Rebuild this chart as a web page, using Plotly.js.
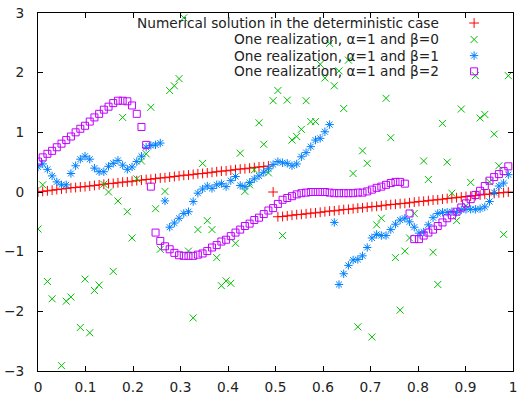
<!DOCTYPE html>
<html><head><meta charset="utf-8">
<script src="https://cdn.plot.ly/plotly-3.0.1.min.js"></script>
<style>html,body{margin:0;padding:0;background:#fff}</style>
</head><body><div id="chart" style="width:521px;height:396px"></div>
<script>
const xGrid = [0,0.0099,0.0198,0.0297,0.0396,0.0495,0.0594,0.0693,0.0792,0.0891,
0.0990,0.1089,0.1188,0.1287,0.1386,0.1485,0.1584,0.1683,0.1782,0.1881,
0.1980,0.2079,0.2178,0.2277,0.2376,0.2475,0.2574,0.2673,0.2772,0.2871,
0.2970,0.3069,0.3168,0.3267,0.3366,0.3465,0.3564,0.3663,0.3762,0.3861,
0.3960,0.4059,0.4158,0.4257,0.4356,0.4455,0.4554,0.4653,0.4752,0.4851,
0.4950,0.5050,0.5149,0.5248,0.5347,0.5446,0.5545,0.5644,0.5743,0.5842,
0.5941,0.6040,0.6139,0.6238,0.6337,0.6436,0.6535,0.6634,0.6733,0.6832,
0.6931,0.7030,0.7129,0.7228,0.7327,0.7426,0.7525,0.7624,0.7723,0.7822,
0.7921,0.8020,0.8119,0.8218,0.8317,0.8416,0.8515,0.8614,0.8713,0.8812,
0.8911,0.9010,0.9109,0.9208,0.9307,0.9406,0.9505,0.9604,0.9703,0.9802,
0.9901];

const deterministic = [0.00,0.01,0.02,0.03,0.04,0.05,0.06,0.07,0.075,0.085,
0.09,0.10,0.11,0.12,0.13,0.14,0.145,0.155,0.165,0.17,
0.18,0.19,0.20,0.21,0.215,0.225,0.235,0.24,0.25,0.26,
0.27,0.28,0.285,0.295,0.305,0.31,0.32,0.33,0.34,0.35,
0.355,0.365,0.375,0.385,0.39,0.40,0.41,0.42,0.425,0.435,
0.00,-0.415,-0.41,-0.40,-0.39,-0.38,-0.375,-0.365,-0.355,-0.35,
-0.34,-0.33,-0.32,-0.315,-0.305,-0.295,-0.29,-0.28,-0.27,-0.265,
-0.255,-0.245,-0.24,-0.23,-0.22,-0.21,-0.205,-0.195,-0.19,-0.18,
-0.17,-0.16,-0.155,-0.145,-0.135,-0.13,-0.12,-0.11,-0.10,-0.095,
-0.085,-0.075,-0.07,-0.06,-0.05,-0.04,-0.035,-0.025,-0.015,-0.01,
0.00];

const beta0 = [-0.62,0.12,-1.50,-1.79,null,-2.91,-1.83,-1.76,null,-2.27,
-1.46,-2.36,-1.65,-1.56,0.13,0.00,-1.33,-0.15,1.25,-0.33,
-0.77,0.22,0.52,0.64,1.42,-0.28,-0.96,0.01,1.70,1.78,
1.90,2.92,-0.99,-2.11,-0.63,0.48,-0.48,-0.63,-1.10,-1.57,
-1.49,-1.53,-0.86,0.65,0.01,0.12,0.37,1.16,0.80,0.32,
1.53,1.70,-0.73,1.54,0.87,0.93,1.05,1.53,1.18,1.18,
2.14,1.91,2.49,1.78,2.03,1.40,2.21,0.31,-2.26,0.69,
0.48,-2.43,-0.55,-0.44,1.57,0.91,-1.10,-1.98,-0.99,-0.77,
-0.36,null,0.52,0.21,-1.01,-1.55,1.15,0.50,-0.02,-0.48,
1.39,-0.23,0.16,1.95,1.24,1.30,0.17,0.97,0.44,-0.71,
1.95];

const beta1 = [0.42,0.47,0.38,0.27,0.17,0.12,0.12,0.31,0.44,0.55,
0.60,0.55,0.40,0.34,0.34,0.43,0.48,0.53,0.45,0.38,
0.42,0.51,0.60,0.75,0.78,0.79,0.82,-0.15,-0.59,-0.52,
-0.44,-0.36,-0.33,-0.16,-0.02,0.05,0.10,0.06,0.12,0.14,
0.09,0.19,0.26,0.11,0.09,0.16,0.22,0.27,0.33,0.39,
0.46,0.51,0.49,0.48,0.44,0.47,0.59,0.66,0.76,0.87,
0.90,1.01,1.13,-0.51,-1.55,-1.37,-1.23,-1.14,-1.13,-1.07,
-0.93,-0.77,-0.71,-0.73,-0.73,-0.63,-0.54,-0.47,-0.44,-0.50,
-0.59,-0.69,-0.67,-0.55,-0.43,-0.36,-0.34,-0.34,-0.33,-0.34,
-0.30,-0.29,-0.29,-0.29,-0.28,-0.25,-0.16,-0.01,0.10,0.15,
0.29];

const beta2 = [0.51,0.58,0.64,0.69,0.75,0.81,0.87,0.93,1.00,1.06,
1.11,1.18,1.25,1.31,1.38,1.43,1.49,1.53,1.53,1.52,
1.45,1.31,1.09,0.79,0.09,-0.68,-0.82,-0.91,-0.96,-1.02,
-1.06,-1.07,-1.07,-1.07,-1.05,-1.03,-0.99,-0.93,-0.89,-0.83,
-0.80,-0.74,-0.68,-0.63,-0.57,-0.53,-0.47,-0.43,-0.37,-0.31,
-0.27,-0.20,-0.13,-0.10,-0.07,-0.04,-0.02,-0.01,0.00,0.00,
0.00,0.00,-0.01,-0.02,-0.02,-0.02,-0.02,-0.02,-0.01,-0.01,
0.01,0.04,0.07,0.09,0.12,0.15,0.17,0.17,0.14,-0.36,
-0.79,-0.79,-0.73,-0.68,-0.63,-0.57,-0.51,-0.44,-0.39,-0.33,
-0.26,-0.19,-0.12,-0.05,0.02,0.10,0.19,0.25,0.30,0.35,
0.43];

const seriesLabels = [
  'Numerical solution in the deterministic case',
  'One realization, α=1 and β=0',
  'One realization, α=1 and β=1',
  'One realization, α=1 and β=2'
];
const xTicks = [0,0.1,0.2,0.3,0.4,0.5,0.6,0.7,0.8,0.9,1];
const xTickText = ['0','0.1','0.2','0.3','0.4','0.5','0.6','0.7','0.8','0.9','1'];
const yTicks = [-3,-2,-1,0,1,2,3];

const colors = ['#ff0000','#00c000','#0080ff','#c000ff'];
const symbols = ['cross-thin','x-thin','asterisk','square-open'];
const sizes = [7,7,7,7];
const ys = [deterministic, beta0, beta1, beta2];
const legendIds = ['legend','legend2','legend3','legend4'];

const traces = ys.map((y, i) => ({
  x: xGrid, y: y, type: 'scatter', mode: 'markers', name: '',
  legend: legendIds[i], showlegend: true, cliponaxis: true,
  marker: {symbol: symbols[i], size: sizes[i], color: colors[i], line: {color: colors[i], width: 1}}
}));

const font = {family: 'DejaVu Sans', size: 13.7, color: '#222'};
const rowY = [0.972, 0.926, 0.881, 0.837];
const layout = {
  width: 521, height: 396,
  margin: {l: 38, r: 8, t: 13, b: 25},
  paper_bgcolor: '#fff', plot_bgcolor: '#fff',
  font: font,
  xaxis: {range: [0, 1], tickmode: 'array', tickvals: xTicks, ticktext: xTickText,
    ticks: 'inside', ticklen: 5, tickwidth: 1, tickcolor: '#000',
    showline: true, linecolor: '#000', linewidth: 1, mirror: 'ticks',
    showgrid: false, zeroline: false, ticklabelstandoff: 4, tickfont: font},
  yaxis: {range: [-3, 3], tickmode: 'array', tickvals: yTicks,
    ticks: 'inside', ticklen: 5, tickwidth: 1, tickcolor: '#000',
    showline: true, linecolor: '#000', linewidth: 1, mirror: 'ticks',
    showgrid: false, zeroline: false, ticklabelstandoff: 10, tickfont: font},
  annotations: seriesLabels.map((t, i) => ({
    text: t, xref: 'paper', yref: 'paper', x: 0.848, y: rowY[i],
    xanchor: 'right', yanchor: 'middle', showarrow: false, font: font
  }))
};
legendIds.forEach((id, i) => {
  layout[id] = {x: 0.876, y: rowY[i], xanchor: 'left', yanchor: 'middle',
    bgcolor: 'rgba(0,0,0,0)', borderwidth: 0, font: {family: 'DejaVu Sans', size: 10},
    itemwidth: 30, itemclick: false, itemdoubleclick: false};
});
Plotly.newPlot('chart', traces, layout, {staticPlot: true, displayModeBar: false});
</script>
</body></html>
